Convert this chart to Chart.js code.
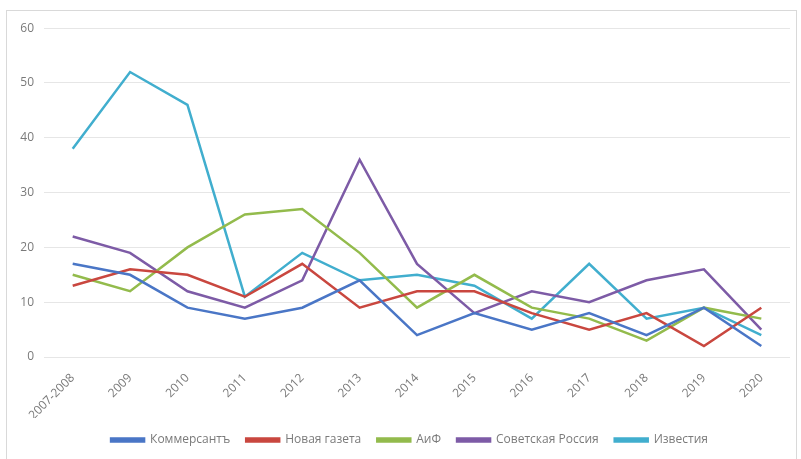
<!DOCTYPE html>
<html>
<head>
<meta charset="utf-8">
<script src="https://cdn.jsdelivr.net/npm/chart.js@4/dist/chart.umd.min.js"></script>
<style>
  html, body { margin: 0; padding: 0; background: #fff; }
  #wrap { position: absolute; left: 6px; top: 10px; width: 789px; height: 460px; border: 1px solid #d9d9d9; }
</style>
</head>
<body>
<div id="wrap"><canvas id="chart" width="789" height="445"></canvas></div>
<script>
// Годы (категории оси X)
const years = ['2007-2008', '2009', '2010', '2011', '2012', '2013', '2014', '2015', '2016', '2017', '2018', '2019', '2020'];

// Значения по изданиям
const kommersant = [17, 15, 9, 7, 9, 14, 4, 8, 5, 8, 4, 9, 2];
const novayaGazeta = [13, 16, 15, 11, 17, 9, 12, 12, 8, 5, 8, 2, 9];
const aif = [15, 12, 20, 26, 27, 19, 9, 15, 9, 7, 3, 9, 7];
const sovRossiya = [22, 19, 12, 9, 14, 36, 17, 8, 12, 10, 14, 16, 5];
const izvestiya = [38, 52, 46, 11, 19, 14, 15, 13, 7, 17, 7, 9, 4];

const seriesNames = ['Коммерсантъ', 'Новая газета', 'АиФ', 'Советская Россия', 'Известия'];
const seriesColors = ['#4a76c6', '#c9473f', '#93bb4c', '#7d5ba6', '#41aece'];
const seriesData = [kommersant, novayaGazeta, aif, sovRossiya, izvestiya];

const textColor = '#7a7a7a';
const font = { family: "'Open Sans', 'Liberation Sans', sans-serif", size: 12 };

// сдвиг легенды чуть вправо, как в оригинале
const legendShift = {
    id: 'legendShift',
    afterLayout(chart) {
        chart.legend.left += 7;
        chart.legend.right += 7;
    }
};

new Chart(document.getElementById('chart').getContext('2d'), {
    type: 'line',
    data: {
        labels: years,
        datasets: seriesData.map((d, i) => ({
            label: seriesNames[i],
            data: d,
            borderColor: seriesColors[i],
            backgroundColor: seriesColors[i],
            borderWidth: 2.5,
            pointRadius: 0,
            tension: 0,
            fill: false
        }))
    },
    options: {
        responsive: false,
        animation: false,
        layout: { padding: { top: 10, right: 6, left: 8, bottom: 0 } },
        plugins: {
            legend: {
                position: 'bottom',
                labels: {
                    color: textColor,
                    font: font,
                    boxWidth: 33,
                    boxHeight: 3,
                    padding: 16
                }
            },
            tooltip: { enabled: false }
        },
        scales: {
            x: {
                offset: true,
                grid: { display: false },
                border: { display: false },
                ticks: { color: textColor, font: font, maxRotation: 45, minRotation: 45, padding: 6, autoSkip: false },
                afterFit: (axis) => { axis.height = 61; }
            },
            y: {
                min: 0,
                max: 60,
                ticks: { stepSize: 10, color: textColor, font: font, padding: 10 },
                grid: { color: '#e6e6e6', lineWidth: 1, drawTicks: false },
                border: { display: false },
                afterFit: (axis) => { axis.width = 29; }
            }
        }
    },
    plugins: [legendShift]
});
</script>
</body>
</html>
